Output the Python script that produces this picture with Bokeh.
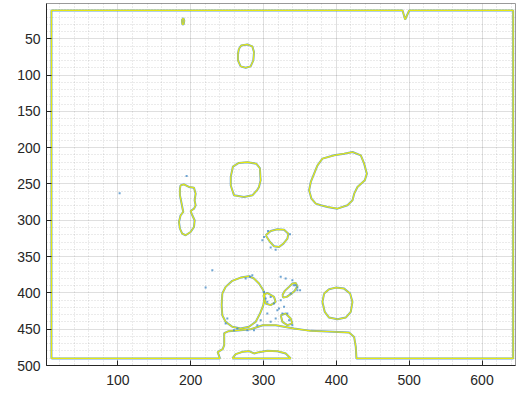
from bokeh.plotting import figure
from bokeh.models import Range1d, FixedTicker
from bokeh.embed import file_html
from bokeh.resources import INLINE

# ---- data (image coordinates: x = column, y = row, y grows downward) ----
x_ticks = [100, 200, 300, 400, 500, 600]
y_ticks = [50, 100, 150, 200, 250, 300, 350, 400, 450, 500]
x_minor = [20, 40, 60, 80, 120, 140, 160, 180, 220, 240, 260, 280, 320, 340, 360, 380,
           420, 440, 460, 480, 520, 540, 560, 580, 620, 640]
y_minor = [10, 20, 30, 40, 60, 70, 80, 90, 110, 120, 130, 140, 160, 170, 180, 190,
           210, 220, 230, 240, 260, 270, 280, 290, 310, 320, 330, 340, 360, 370, 380, 390,
           410, 420, 430, 440, 460, 470, 480, 490]

# outer border contour with the gap at the bottom
outer_x = [8.8, 240.2, 237.0, 243.9, 246.0, 246.0, 252.1, 268.6, 282.4, 298.9, 316.7, 341.9,
           364.8, 387.7, 417.5, 424.4, 426.7, 427.6, 642.8, 642.8, 500.0, 494.5, 490.9, 8.8, 8.8]
outer_y = [490.3, 490.3, 481.6, 477.5, 472.0, 455.5, 452.7, 451.3, 450.0, 444.5, 444.5, 449.1,
           452.3, 453.2, 454.6, 460.6, 474.3, 490.3, 490.3, 11.0, 11.0, 23.4, 11.0, 11.0, 490.3]

dome_x = [257.2, 261.8, 271.0, 280.0, 286.9, 293.8, 305.3, 319.1, 330.5, 337.4, 257.2]
dome_y = [490.3, 484.4, 481.2, 480.3, 483.4, 481.6, 479.8, 480.3, 483.4, 490.3, 490.3]

circle_l_x = [243.4, 248.0, 257.1, 268.6, 280.0, 286.9, 293.8, 299.7, 301.6, 299.7, 295.2,
              289.2, 280.0, 268.6, 257.1, 248.0, 243.4, 242.5, 243.4]
circle_l_y = [400.9, 391.7, 383.4, 378.9, 377.0, 380.2, 387.1, 396.3, 405.5, 416.9, 428.4,
              439.9, 446.7, 449.0, 446.7, 439.9, 430.7, 416.9, 400.9]

circle_r_x = [383.2, 390.0, 399.2, 410.7, 418.9, 422.1, 419.8, 412.9, 401.5, 390.0, 384.1, 380.9, 383.2]
circle_r_y = [400.9, 395.0, 392.7, 394.1, 400.9, 412.4, 426.2, 434.0, 436.3, 434.0, 426.2, 412.4, 400.9]

small_x = [303.0, 309.8, 319.0, 328.2, 334.1, 332.8, 327.3, 321.3, 314.4, 308.9, 303.0]
small_y = [320.7, 314.7, 312.4, 312.9, 318.4, 325.3, 332.1, 336.7, 335.8, 329.8, 320.7]

big_x = [374.1, 380.9, 397.0, 410.7, 422.2, 433.6, 438.2, 441.9, 439.1, 429.0, 424.5, 422.2,
         415.3, 401.5, 387.8, 378.6, 371.8, 365.8, 362.6, 364.9, 369.5, 374.1]
big_y = [224.3, 215.1, 210.5, 208.2, 206.0, 210.5, 222.0, 235.8, 244.9, 254.1, 263.3, 272.5,
         279.3, 284.0, 281.6, 279.3, 277.1, 270.2, 258.7, 247.2, 235.8, 224.3]

mid_x = [255.0, 258.0, 266.0, 278.0, 290.0, 295.0, 296.0, 293.8, 291.5, 284.7, 273.2, 259.5, 255.0, 255.0]
mid_y = [240.0, 226.0, 221.0, 220.0, 222.0, 228.0, 245.0, 254.0, 258.0, 265.6, 267.9, 265.6, 252.0, 240.0]

top_x = [266.3, 269.5, 277.8, 284.6, 286.9, 286.0, 282.3, 275.5, 268.6, 264.9, 264.9, 266.3]
top_y = [63.7, 59.1, 57.8, 60.5, 68.3, 79.8, 88.0, 89.9, 88.0, 79.8, 70.6, 63.7]

tiny_x = [188.5, 190.0, 191.2, 190.3, 188.6, 188.0, 188.5]
tiny_y = [22.5, 22.0, 25.0, 30.0, 30.3, 26.0, 22.5]

peanut_x = [186.1, 190.7, 197.6, 204.5, 206.8, 205.4, 206.8, 204.5, 199.9, 202.2, 205.4, 204.5,
            199.9, 193.0, 188.4, 185.2, 183.9, 186.1, 189.8, 188.4, 187.1, 185.2, 185.2, 186.1]
peanut_y = [251.8, 250.5, 254.1, 255.1, 263.3, 272.5, 279.4, 284.0, 287.2, 293.1, 300.0, 309.2,
            316.1, 320.6, 318.4, 311.5, 302.3, 293.1, 288.5, 281.7, 274.8, 265.6, 256.4, 251.8]

diag_x = [325.9, 329.1, 335.0, 339.6, 344.2, 346.5, 342.8, 337.3, 331.8, 327.2, 325.9]
diag_y = [403.2, 397.2, 391.7, 387.1, 386.2, 390.8, 397.2, 401.8, 405.5, 406.4, 403.2]

bridge_x = [299.7, 305.2, 314.4, 316.7, 309.8, 303.0, 299.7]
bridge_y = [403.2, 400.0, 405.5, 412.3, 416.9, 414.6, 403.2]

lump_x = [323.6, 330.4, 337.3, 339.6, 332.7, 325.9, 323.6]
lump_y = [430.7, 428.4, 435.3, 442.2, 444.4, 439.9, 430.7]

speck_x = [102.4, 229.7, 220.5, 194.4, 281.4, 284.6, 275.5, 300.7, 303.0, 305.2, 309.8, 314.4,
           321.3, 325.9, 328.2, 330.4, 339.6, 344.2, 346.5, 337.3, 323.6, 305.2, 309.8, 316.7,
           296.1, 291.5, 264.0, 259.4, 277.8, 286.9, 250.3, 248.0, 323.6, 319.0, 332.7, 335.0,
           339.6, 300.7, 298.4, 336.4, 309.8, 316.7, 306.2, 341.9, 346.5, 350.2]
speck_y = [262.8, 368.8, 392.7, 239.0, 377.9, 375.6, 380.2, 398.6, 407.8, 412.3, 405.5, 414.6,
           421.5, 428.4, 419.2, 380.2, 382.5, 389.4, 396.3, 400.9, 410.0, 428.4, 439.9, 435.3,
           437.6, 444.4, 449.0, 451.3, 451.3, 451.3, 435.3, 442.2, 377.9, 423.8, 428.4, 437.6,
           444.4, 323.0, 327.5, 319.3, 337.6, 340.4, 314.7, 389.5, 392.7, 396.3]

contours_x = [outer_x, dome_x, circle_l_x, circle_r_x, small_x, big_x, mid_x, top_x, tiny_x,
              peanut_x, diag_x, bridge_x, lump_x]
contours_y = [outer_y, dome_y, circle_l_y, circle_r_y, small_y, big_y, mid_y, top_y, tiny_y,
              peanut_y, diag_y, bridge_y, lump_y]

BLUE = "#3f87c4"
YELLOW = "#e6e812"
FONT = "Liberation Sans"
TXT = "#262626"

p = figure(frame_width=469, frame_height=362, output_backend="svg", toolbar_location=None,
           x_range=Range1d(2, 646), y_range=Range1d(500, 1.4),
           min_border_left=46, min_border_right=5, min_border_top=3, min_border_bottom=31,
           background_fill_color="white", border_fill_color="white")

p.xaxis.ticker = FixedTicker(ticks=x_ticks, minor_ticks=x_minor)
p.yaxis.ticker = FixedTicker(ticks=y_ticks, minor_ticks=y_minor)
for ax in (p.xaxis[0], p.yaxis[0]):
    ax.major_tick_in = 5
    ax.major_tick_out = 0
    ax.minor_tick_in = 0
    ax.minor_tick_out = 0
    ax.axis_line_color = TXT
    ax.major_tick_line_color = TXT
    ax.major_label_text_color = TXT
    ax.major_label_text_font = FONT
    ax.major_label_text_font_size = "14px"
p.xaxis.major_label_standoff = 9
p.yaxis.major_label_standoff = 6

p.xgrid.grid_line_color = TXT
p.xgrid.grid_line_alpha = 0.15
p.ygrid.grid_line_color = TXT
p.ygrid.grid_line_alpha = 0.15
for g in (p.xgrid[0], p.ygrid[0]):
    g.minor_grid_line_color = TXT
    g.minor_grid_line_alpha = 0.18
    g.minor_grid_line_dash = "1 2"

p.outline_line_color = "#9a9a9a"
p.outline_line_width = 1

p.multi_line(xs=contours_x, ys=contours_y, line_color=BLUE, line_width=2.0, line_alpha=0.8)
p.multi_line(xs=contours_x, ys=contours_y, line_color=YELLOW, line_width=1.2)
p.scatter(speck_x, speck_y, marker="square", size=2.0, fill_color=BLUE, line_color=None, fill_alpha=0.75)

open("out.html", "w").write(file_html(p, INLINE))
